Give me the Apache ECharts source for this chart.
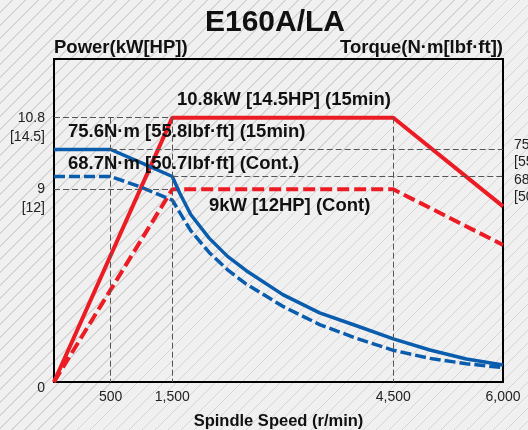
<!DOCTYPE html>
<html>
<head>
<meta charset="utf-8">
<script src="https://cdn.jsdelivr.net/npm/echarts@6/dist/echarts.min.js"></script>
<style>
    html, body {
        margin: 0;
        padding: 0;
        background-color: #f0f0f0;
        background-image: repeating-linear-gradient(135deg, #f0f0f0 0px, #f0f0f0 8.2px, #d5d5d5 8.2px, #d5d5d5 9.2px);
    }
    #chart { width: 528px; height: 430px; }
</style>
</head>
<body>
<div id="chart"></div>
<script>
    // 转速 (r/min)
    const speed = [0, 500, 1000, 1500, 1600, 1750, 2000, 2250, 2500, 3000, 3500, 4000, 4500, 5000, 5500, 6000];
    // 扭矩 N·m
    const torque15 = [75.6, 75.6, 72.2, 68.7, 63.2, 56.0, 48.1, 42.0, 37.3, 29.2, 23.1, 18.8, 14.4, 10.7, 7.7, 5.7];
    const torqueCont = [68.7, 68.7, 65.1, 60.8, 56.7, 50.6, 43.3, 37.5, 32.8, 25.3, 19.2, 14.6, 10.6, 7.9, 6.1, 4.8];

    // 功率 kW
    const powerSpeed = [0, 1500, 4500, 6000];
    const power15 = [0, 10.8, 10.8, 8.2];
    const powerCont = [0, 9, 9, 6.4];

    // 刻度标签
    const speedTicks = [500, 1500, 4500, 6000];
    const speedTickLabels = ['500', '1,500', '4,500', '6,000'];
    const powerTicks = [0, 9, 10.8];
    const powerTickLabels = ['0', '9\n[12]', '10.8\n[14.5]'];
    const torqueTicks = [75.6, 68.7];
    const torqueTickLabels = ['75.6\n[55.8]', '68.7\n[50.7]'];

    // 原图的轴不是线性的，按分段刻度换算到 0-100 的显示坐标
    const speedScale = {values: [0, 500, 1500, 4500, 6000], pos: [0, 12.63, 26.35, 75.57, 100]};
    const powerScale = {values: [0, 9, 10.8], pos: [0, 59.66, 81.83]};
    const torqueScale = {values: [0, 68.7, 75.6], pos: [0, 63.62, 71.98]};

    function toPos(scale, v) {
        const vs = scale.values, ps = scale.pos;
        let i = 0;
        while (i < vs.length - 2 && v > vs[i + 1]) i++;
        return ps[i] + (v - vs[i]) * (ps[i + 1] - ps[i]) / (vs[i + 1] - vs[i]);
    }
    const sx = v => toPos(speedScale, v);
    const py = v => toPos(powerScale, v);
    const ty = v => toPos(torqueScale, v);

    function pickLabel(ticks, labels, fn, value) {
        const i = ticks.findIndex(t => Math.abs(fn(t) - value) < 0.01);
        return i < 0 ? '' : labels[i];
    }

    const font = "'Liberation Sans', Arial, sans-serif";
    const red = '#ec1c24';
    const blue = '#0a5cad';
    const guide = {type: [6, 3], color: '#555', width: 1};

    function seg(x1, y1, x2, y2) {
        return [{coord: [x1, y1]}, {coord: [x2, y2]}];
    }

    // 右侧扭矩刻度：两个标签挨得太近，各用一根轴，免得被自动隐藏
    // 第一行前面加一段空白，把文字往下挪一点
    function torqueAxis(i, gap) {
        return {
            type: 'value',
            min: 0,
            max: 100,
            position: 'right',
            name: i === 0 ? 'Torque(N·m[lbf·ft])' : '',
            nameLocation: 'end',
            nameGap: 2,
            nameMoveOverlap: false,
            nameTextStyle: {fontSize: 18.5, fontWeight: 'bold', color: '#111', align: 'right', fontFamily: font},
            axisLine: {show: false},
            axisTick: {show: false},
            splitLine: {show: false},
            axisLabel: {
                customValues: [ty(torqueTicks[i])],
                formatter: () => '{s|\u00a0}\n' + torqueTickLabels[i].split('\n').map(t => '{t|' + t + '}').join('\n'),
                rich: {
                    s: {fontSize: 1, lineHeight: gap, height: gap},
                    t: {fontSize: 14, lineHeight: 17, color: '#222'}
                },
                showMinLabel: true,
                showMaxLabel: true,
                fontSize: 14,
                color: '#222',
                margin: 11
            }
        };
    }

    let myChart = echarts.init(document.getElementById('chart'));
    myChart.setOption({
        backgroundColor: 'transparent',
        animation: false,
        textStyle: {fontFamily: font},
        grid: {
            left: 54, right: 25, top: 59, bottom: 48,
            containLabel: false,
            outerBoundsMode: 'none',
            show: true,
            borderColor: '#000',
            borderWidth: 2,
            backgroundColor: 'transparent'
        },
        xAxis: {
            type: 'value',
            min: 0,
            max: 100,
            name: 'Spindle Speed (r/min)',
            nameLocation: 'middle',
            nameGap: 31,
            nameMoveOverlap: false,
            nameTextStyle: {fontSize: 16.5, fontWeight: 'bold', color: '#111', fontFamily: font},
            axisLine: {show: false},
            axisTick: {show: false},
            splitLine: {show: false},
            axisLabel: {
                customValues: speedTicks.map(sx),
                formatter: v => pickLabel(speedTicks, speedTickLabels, sx, v),
                showMinLabel: true,
                showMaxLabel: true,
                fontSize: 14,
                color: '#222',
                margin: 8
            }
        },
        yAxis: [
            {
                type: 'value',
                min: 0,
                max: 100,
                position: 'left',
                name: 'Power(kW[HP])',
                nameLocation: 'end',
                nameGap: 2,
                nameMoveOverlap: false,
                nameTextStyle: {fontSize: 18.5, fontWeight: 'bold', color: '#111', align: 'left', fontFamily: font},
                axisLine: {show: false},
                axisTick: {show: false},
                splitLine: {show: false},
                axisLabel: {
                    customValues: powerTicks.map(py),
                    formatter: function (v) {
                        const s = pickLabel(powerTicks, powerTickLabels, py, v);
                        if (s === '0') return '{z|0}';
                        return ' \n' + s;
                    },
                    showMinLabel: true,
                    showMaxLabel: true,
                    rich: {z: {fontSize: 14, color: '#222', padding: [12, 0, 0, 0]}},
                    fontSize: 14,
                    lineHeight: 19,
                    color: '#222',
                    margin: 9
                }
            },
            torqueAxis(0, 8),
            torqueAxis(1, 24)
        ],
        series: [
            {
                // 辅助虚线
                type: 'line',
                data: [],
                z: 1,
                markLine: {
                    silent: true,
                    symbol: 'none',
                    label: {show: false},
                    lineStyle: guide,
                    data: [
                        seg(sx(0), py(10.8), sx(1500), py(10.8)),
                        seg(sx(0), py(9), sx(1500), py(9)),
                        seg(sx(500), ty(75.6), sx(6000), ty(75.6)),
                        seg(sx(1500), ty(68.7), sx(6000), ty(68.7)),
                        seg(sx(500), py(10.8), sx(500), 0),
                        seg(sx(1500), py(10.8), sx(1500), 0),
                        seg(sx(4500), py(10.8), sx(4500), 0)
                    ]
                }
            },
            {
                name: 'Power 15min',
                type: 'line',
                z: 3,
                symbol: 'none',
                data: powerSpeed.map((s, i) => [sx(s), py(power15[i])]),
                lineStyle: {color: red, width: 4}
            },
            {
                name: 'Power Cont',
                type: 'line',
                z: 3,
                symbol: 'none',
                data: powerSpeed.map((s, i) => [sx(s), py(powerCont[i])]),
                lineStyle: {color: red, width: 4, type: [12, 5]}
            },
            {
                name: 'Torque 15min',
                type: 'line',
                z: 3,
                symbol: 'none',
                data: speed.map((s, i) => [sx(s), ty(torque15[i])]),
                lineStyle: {color: blue, width: 3.5}
            },
            {
                name: 'Torque Cont',
                type: 'line',
                z: 3,
                symbol: 'none',
                data: speed.map((s, i) => [sx(s), ty(torqueCont[i])]),
                lineStyle: {color: blue, width: 3.5, type: [11, 4]}
            }
        ],
        graphic: [
            {type: 'text', x: 275, y: 23, z: 10, style: {text: 'E160A/LA', fontSize: 30, fontWeight: 'bold', fontFamily: font, fill: '#111', align: 'center', verticalAlign: 'middle'}},
            {type: 'text', x: 177, y: 100, z: 10, style: {text: '10.8kW [14.5HP] (15min)', fontSize: 18.5, fontWeight: 'bold', fontFamily: font, fill: '#111', verticalAlign: 'middle'}},
            {type: 'text', x: 68, y: 132, z: 10, style: {text: '75.6N·m [55.8lbf·ft] (15min)', fontSize: 18.5, fontWeight: 'bold', fontFamily: font, fill: '#111', verticalAlign: 'middle'}},
            {type: 'text', x: 68, y: 164, z: 10, style: {text: '68.7N·m [50.7lbf·ft] (Cont.)', fontSize: 18.5, fontWeight: 'bold', fontFamily: font, fill: '#111', verticalAlign: 'middle'}},
            {type: 'text', x: 209, y: 206, z: 10, style: {text: '9kW [12HP] (Cont)', fontSize: 18.5, fontWeight: 'bold', fontFamily: font, fill: '#111', verticalAlign: 'middle'}}
        ]
    });
</script>
</body>
</html>
